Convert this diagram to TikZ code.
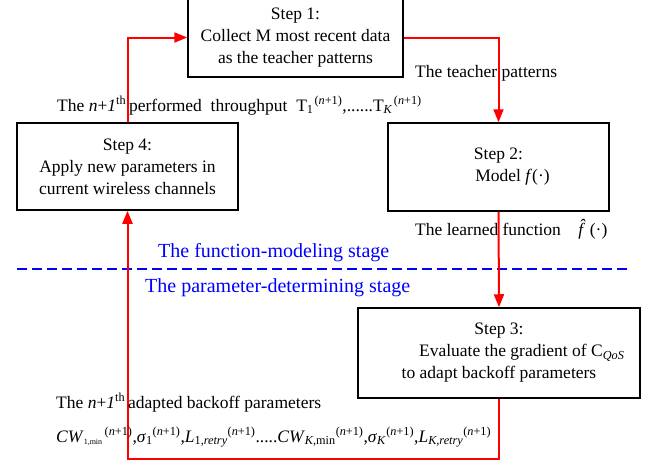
\documentclass[tikz,border=0pt]{standalone}
\usepackage{fontspec}
\setmainfont{Liberation Serif}
\usetikzlibrary{arrows.meta, positioning}

% the (n+1) superscript used in the labels
\newcommand{\nextit}{\textsuperscript{(\textit{n}+1)}}
\newcommand{\nth}{\textit{n}+\textit{1}\textsuperscript{th}}

\begin{document}
\begin{tikzpicture}[
  x=1pt,
  y=-1pt,
  stepbox/.style={draw, line width=1.5pt, align=center, inner sep=0pt,
    font=\fontsize{17.5}{22}\selectfont},
  flow/.style={draw=red, line width=2pt, -{Triangle[length=13pt, width=10pt]}},
  lbl/.style={anchor=base west, inner sep=0pt, font=\fontsize{17.5}{22}\selectfont},
  stage/.style={lbl, text=blue, font=\fontsize{20}{24}\selectfont},
  stageline/.style={draw=blue, line width=1.2pt, dash pattern=on 10pt off 5pt}
  ]
    \useasboundingbox (0,0) rectangle (645,463);

    % the four steps
    \node[stepbox, minimum width=215pt, minimum height=79pt] (step1) at (295.5,37.5)
      {Step 1:\\ Collect M most recent data\\ as the teacher patterns};
    \node[stepbox, minimum width=221pt, minimum height=88pt] (step2) at (498.5,167)
      {Step 2:\\ \hspace*{1.6em}Model \textit{f}(·)};
    \node[stepbox, minimum width=282pt, minimum height=90pt] (step3) at (499,353)
      {Step 3:\\ \hspace*{2.6em}Evaluate the gradient of C\textsubscript{\textit{QoS}}\\ to adapt backoff parameters};
    \node[stepbox, minimum width=221pt, minimum height=87pt] (step4) at (127.5,166.5)
      {Step 4:\\ Apply new parameters in\\ current wireless channels};

    % stage border
    \coordinate (splitl) at (17,269);
    \coordinate (splitr) at (630,269);
    \path[stageline] (splitl) -- (splitr);
    \node[stage] (modeling) at (158,257) {The function-modeling stage};
    \node[stage] (determining) at (145,292) {The parameter-determining stage};

    % loop
    \coordinate (loopbot) at (300,459);
    \path[flow] (step1.east) -| (step2.north);
    \path[flow] (step2.south) -- (step3.north);
    \path[flow] (step3.south) |- (loopbot) -| (step4.south);
    \path[flow] (step4.north) |- (step1.west);

    % labels on the loop
    \node[lbl] (teacher) at (415,77) {The teacher patterns};
    \node[lbl] (learned) at (415,235) {The learned function\hspace{1em}\textit{f̂}(·)};
    \node[lbl] (throughput) at (57,111)
      {The \nth\,performed\ \ throughput\ \ T\textsubscript{1}\hspace{1pt}\nextit,......T\textsubscript{\textit{K}}\hspace{1pt}\nextit};
    \node[lbl] (adapted) at (56,408) {The \nth\,adapted backoff parameters};
    \node[lbl] (params) at (56,442)
      {\textit{CW}\textsubscript{\fontsize{8}{8}\selectfont 1,min}\hspace{2pt}\nextit,\textit{σ}\textsubscript{1}\nextit,\textit{L}\textsubscript{1,\textit{retry}}\nextit.....\textit{CW}\textsubscript{\textit{K},min}\nextit,\textit{σ}\textsubscript{\textit{K}}\nextit,\textit{L}\textsubscript{\textit{K},\textit{retry}}\nextit};

\end{tikzpicture}
\end{document}
